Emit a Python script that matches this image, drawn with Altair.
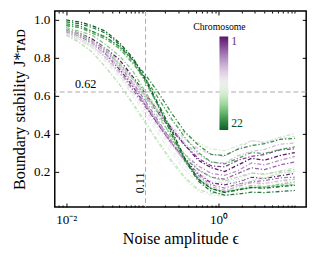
import altair as alt
import pandas as pd

# ---- data ----
eps = [0.01, 0.015, 0.022, 0.033, 0.05, 0.075, 0.11, 0.16, 0.24, 0.36, 0.54,
       0.8, 1.2, 1.8, 2.7, 4.0, 6.5, 10.0]

chr01 = [0.95,0.93,0.90,0.85,0.79,0.70,0.61,0.52,0.43,0.34,0.26,0.22,0.20,0.235,0.27,0.26,0.285,0.30]
chr02 = [0.94,0.91,0.88,0.82,0.74,0.65,0.55,0.45,0.35,0.26,0.19,0.14,0.13,0.145,0.17,0.163,0.178,0.19]
chr03 = [0.95,0.92,0.89,0.84,0.77,0.69,0.60,0.51,0.42,0.34,0.27,0.23,0.225,0.26,0.28,0.29,0.315,0.32]
chr04 = [0.93,0.90,0.86,0.80,0.72,0.63,0.54,0.45,0.35,0.27,0.21,0.17,0.16,0.19,0.22,0.21,0.235,0.25]
chr05 = [0.94,0.92,0.88,0.83,0.76,0.67,0.57,0.47,0.36,0.26,0.18,0.13,0.113,0.134,0.146,0.152,0.167,0.17]
chr06 = [0.93,0.90,0.86,0.80,0.73,0.64,0.55,0.46,0.37,0.29,0.23,0.19,0.18,0.205,0.245,0.235,0.26,0.28]
chr07 = [0.93,0.91,0.87,0.82,0.75,0.66,0.56,0.46,0.35,0.25,0.17,0.12,0.10,0.121,0.142,0.136,0.151,0.16]
chr08 = [0.94,0.92,0.88,0.84,0.77,0.69,0.60,0.52,0.43,0.35,0.29,0.25,0.245,0.284,0.306,0.317,0.345,0.35]
chr09 = [0.92,0.89,0.86,0.81,0.75,0.67,0.59,0.52,0.44,0.37,0.32,0.29,0.28,0.322,0.364,0.352,0.382,0.40]
chr10 = [0.93,0.90,0.86,0.80,0.72,0.62,0.53,0.43,0.34,0.25,0.19,0.15,0.14,0.16,0.192,0.184,0.204,0.22]
chr11 = [0.92,0.89,0.85,0.78,0.70,0.60,0.50,0.40,0.30,0.21,0.14,0.10,0.093,0.114,0.126,0.132,0.147,0.15]
chr12 = [0.93,0.90,0.86,0.79,0.71,0.61,0.52,0.42,0.32,0.23,0.17,0.13,0.12,0.148,0.176,0.168,0.188,0.20]
chr13 = [0.92,0.88,0.83,0.75,0.66,0.55,0.45,0.35,0.25,0.16,0.095,0.075,0.07,0.088,0.116,0.108,0.126,0.14]
chr14 = [0.93,0.91,0.87,0.83,0.76,0.69,0.61,0.54,0.47,0.40,0.35,0.32,0.31,0.336,0.363,0.355,0.374,0.385]
chr15 = [0.92,0.88,0.83,0.75,0.66,0.56,0.46,0.36,0.26,0.17,0.105,0.085,0.086,0.128,0.152,0.164,0.194,0.20]
chr16 = [0.95,0.93,0.89,0.85,0.77,0.69,0.59,0.49,0.39,0.29,0.21,0.17,0.15,0.171,0.192,0.186,0.201,0.21]
chr17 = [0.96,0.94,0.92,0.87,0.81,0.73,0.62,0.51,0.38,0.26,0.16,0.11,0.09,0.104,0.126,0.12,0.134,0.145]
chr18 = [0.97,0.96,0.94,0.91,0.86,0.78,0.67,0.55,0.41,0.27,0.16,0.11,0.092,0.106,0.114,0.118,0.128,0.13]
chr19 = [0.97,0.96,0.93,0.90,0.85,0.77,0.69,0.59,0.48,0.38,0.30,0.25,0.24,0.27,0.30,0.295,0.317,0.33]
chr20 = [0.98,0.97,0.94,0.91,0.86,0.79,0.71,0.62,0.51,0.41,0.34,0.29,0.285,0.318,0.337,0.347,0.37,0.375]
chr21 = [0.99,0.98,0.96,0.93,0.87,0.79,0.68,0.55,0.40,0.26,0.15,0.095,0.075,0.081,0.091,0.089,0.095,0.10]
chr22 = [1.00,0.99,0.97,0.94,0.88,0.80,0.69,0.56,0.42,0.27,0.16,0.11,0.09,0.103,0.116,0.112,0.121,0.127]

series = [chr01, chr02, chr03, chr04, chr05, chr06, chr07, chr08, chr09, chr10, chr11,
          chr12, chr13, chr14, chr15, chr16, chr17, chr18, chr19, chr20, chr21, chr22]

x_major = [0.01, 1.0]
x_minor = [0.008, 0.009, 0.02, 0.03, 0.04, 0.05, 0.06, 0.07, 0.08, 0.09, 0.1,
           0.2, 0.3, 0.4, 0.5, 0.6, 0.7, 0.8, 0.9, 2, 3, 4, 5, 6, 7, 8, 9, 10]
y_ticks = [0.2, 0.4, 0.6, 0.8, 1.0]
legend_values = [1, 22]
h_ref = [0.62]
v_ref = [0.11]
ann_h = {"x": [0.018], "y": [0.66], "t": ["0.62"]}
ann_v = {"x": [0.092], "y": [0.14], "t": ["0.11"]}

rows = []
for i, ys_ in enumerate(series, start=1):
    for xv, yv in zip(eps, ys_):
        # negated key so that chromosome 1 sits at the top of the colour bar
        rows.append({"eps": xv, "J": yv, "chrom": i, "ckey": -i})
df = pd.DataFrame(rows)

FONT = "Liberation Serif"
xs = alt.Scale(type="log", domain=[0.00708, 14.1], nice=False)
ysc = alt.Scale(domain=[0.013, 1.047], nice=False, zero=False)


def tick_axis(orient, values, size):
    return alt.Axis(orient=orient, values=values, tickSize=size, offset=-size,
                    labels=False, domain=False, grid=False, title=None,
                    ticks=True, tickColor="black", tickWidth=1)


main_x = alt.Axis(orient="bottom", values=x_major,
                  labelExpr="datum.value < 0.1 ? '10⁻²' : '10⁰'",
                  ticks=False, domain=False, grid=False, labelFlush=False,
                  title="Noise amplitude ϵ", labelFont=FONT, labelFontSize=13.5,
                  labelColor="black", labelPadding=6, titleFont=FONT,
                  titleFontSize=16.5, titleFontWeight="normal", titleColor="black",
                  titlePadding=5)
main_y = alt.Axis(orient="left", values=y_ticks, format=".1f", ticks=False,
                  domain=False, grid=False, labelFlush=False,
                  title="Boundary stability J*ᴛᴀᴅ", labelFont=FONT,
                  labelFontSize=13.5, labelColor="black", labelPadding=5,
                  titleFont=FONT, titleFontSize=16.5, titleFontWeight="normal",
                  titleColor="black", titlePadding=6)

legend = alt.Legend(title="Chromosome", orient="none", legendX=142, legendY=11,
                    direction="vertical", gradientLength=96, gradientThickness=9,
                    values=[-v for v in legend_values],
                    labelExpr="'' + (-datum.value)",
                    titleFont=FONT, titleFontSize=10,
                    titleFontWeight="normal", titleColor="black",
                    titleAnchor="start", titleAlign="center", titlePadding=5,
                    labelFont=FONT, labelFontSize=12, labelBaseline="middle",
                    labelOffset=3,
                    labelColor=alt.ExprRef("datum.value > -10 ? '#6a2c7a' : '#0b4a23'"),
                    gradientStrokeWidth=0, padding=0)

base = alt.Chart(df)
lines = base.mark_line(strokeDash=[4, 2, 1.3, 2], strokeWidth=1.3).encode(
    x=alt.X("eps:Q", scale=xs, axis=main_x),
    y=alt.Y("J:Q", scale=ysc, axis=main_y),
    color=alt.Color("ckey:Q",
                    scale=alt.Scale(scheme=alt.SchemeParams(name="purplegreen", extent=[1, 0]),
                                    domain=[-22, -1]),
                    legend=legend),
    detail="chrom:N",
)
ghost = base.mark_point(opacity=0)
g1 = ghost.encode(x=alt.X("eps:Q", scale=xs, axis=tick_axis("bottom", x_minor, 2)),
                  y=alt.Y("J:Q", scale=ysc, axis=tick_axis("left", y_ticks, 4)))
g2 = ghost.encode(x=alt.X("eps:Q", scale=xs, axis=tick_axis("bottom", x_major, 4)),
                  y=alt.Y("J:Q", scale=ysc, axis=tick_axis("right", y_ticks, 4)))
g3 = ghost.encode(x=alt.X("eps:Q", scale=xs, axis=tick_axis("top", x_major, 4)),
                  y=alt.Y("J:Q", scale=ysc, axis=None))
g4 = ghost.encode(x=alt.X("eps:Q", scale=xs, axis=tick_axis("top", x_minor, 2)),
                  y=alt.Y("J:Q", scale=ysc, axis=None))

href = alt.Chart(pd.DataFrame({"v": h_ref})).mark_rule(
    color="#a8a8a8", strokeDash=[5, 3], strokeWidth=1).encode(
    y=alt.Y("v:Q", scale=ysc, axis=None))
vref = alt.Chart(pd.DataFrame({"v": v_ref})).mark_rule(
    color="#a8a8a8", strokeDash=[5, 3], strokeWidth=1).encode(
    x=alt.X("v:Q", scale=xs, axis=None))

t1 = alt.Chart(pd.DataFrame(ann_h)).mark_text(font=FONT, fontSize=12.5, color="black").encode(
    x=alt.X("x:Q", scale=xs, axis=None), y=alt.Y("y:Q", scale=ysc, axis=None), text="t:N")
t2 = alt.Chart(pd.DataFrame(ann_v)).mark_text(font=FONT, fontSize=12.5, color="black",
                                              angle=270).encode(
    x=alt.X("x:Q", scale=xs, axis=None), y=alt.Y("y:Q", scale=ysc, axis=None), text="t:N")

chart = alt.layer(href, vref, lines, g1, g2, g3, g4, t1, t2).resolve_axis(
    x="independent", y="independent"
).properties(
    width=258, height=201,
    padding={"left": 48, "top": 0, "right": 7, "bottom": 41},
    autosize=alt.AutoSizeParams(type="none"),
    background="white",
).configure_view(stroke="black", strokeWidth=1.5)

chart.save("out.html", embed_options={"renderer": "svg", "actions": False})
